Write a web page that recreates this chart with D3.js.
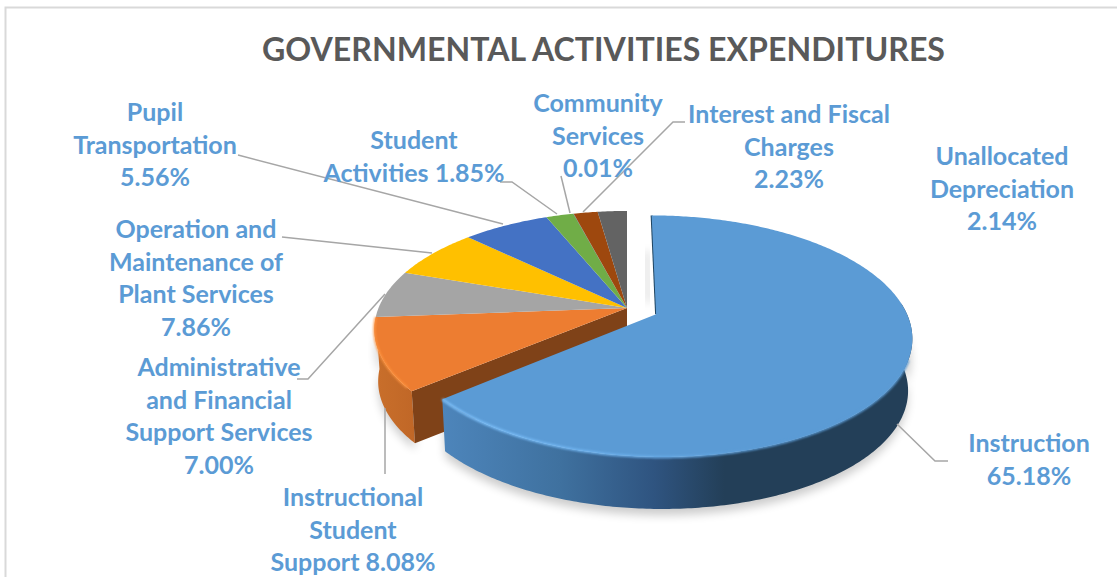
<!DOCTYPE html>
<html><head><meta charset="utf-8">
<script src="https://cdn.jsdelivr.net/npm/d3@7/dist/d3.min.js"></script>
<style>html,body{margin:0;padding:0;background:#fff}svg{display:block}</style>
</head><body><svg id="c" width="1117" height="577"></svg>
<script>
const categories=["Instruction","Instructional Student Support","Administrative and Financial Support Services","Operation and Maintenance of Plant Services","Pupil Transportation","Student Activities","Community Services","Interest and Fiscal Charges","Unallocated Depreciation"];
const values=[65.18,8.08,7.00,7.86,5.56,1.85,0.01,2.23,2.14];
const colors=["#5B9BD5","#ED7D31","#A5A5A5","#FFC000","#4472C4","#70AD47","#255E91","#9E480E","#636363"];
const titleText="GOVERNMENTAL ACTIVITIES EXPENDITURES";
const labelLines=[["Instruction","65.18%"],["Instructional","Student","Support 8.08%"],["Administrative","and Financial","Support Services","7.00%"],["Operation and","Maintenance of","Plant Services","7.86%"],["Pupil","Transportation","5.56%"],["Student","Activities 1.85%"],["Community","Services","0.01%"],["Interest and Fiscal","Charges","2.23%"],["Unallocated","Depreciation","2.14%"]];
// layout (label centre x, first-baseline y, leader polyline)
const labelX=[1029,353,219,196,155,414,598,789,1002];
const labelY=[452,506,376,238,121,149,112,123,165];
const leaders=[[[897,424],[935,461],[948,461]],[[385,408],[385,474]],[[385,294],[308,379],[297,379]],[[432,253],[282,237]],[[503,224],[238,155]],[[557,214],[512,182],[500,182]],[[570,213],[561,176]],[[583,212],[673,122],[685,122]],null];
// the reference's 3-D view shears slices slightly: slice boundary (deg) as seen on the disc
const viewAngles=[0,230,265.5,289,314,337.8,345.3,345.4,352,360];

const svg=d3.select("#c");
const defs=svg.append("defs");
defs.append("filter").attr("id","blur").attr("x","-20%").attr("y","-20%").attr("width","140%").attr("height","140%").append("feGaussianBlur").attr("stdDeviation",5);
defs.append("filter").attr("id","soft").append("feGaussianBlur").attr("stdDeviation",1.2);
const grad=(id,stops)=>{const g=defs.append("linearGradient").attr("id",id).attr("gradientUnits","userSpaceOnUse").attr("x1",stops.x1).attr("x2",stops.x2).attr("y1",0).attr("y2",0);
 stops.s.forEach(s=>g.append("stop").attr("offset",s[0]).attr("stop-color",s[1]));};
grad("sideBlue",{x1:443,x2:912,s:[[0,"#4D85BB"],[.25,"#3F719F"],[.45,"#2F5480"],[.6,"#233F58"],[1,"#233F58"]]});
grad("sideOrange",{x1:374,x2:425,s:[[0,"#C96F2B"],[1,"#BE6526"]]});
defs.append("linearGradient").attr("id","rimBlue").attr("gradientUnits","userSpaceOnUse").attr("x1",443).attr("x2",760).attr("y1",0).attr("y2",0)
 .call(g=>{g.append("stop").attr("offset",0).attr("stop-color","#7DC0FA");g.append("stop").attr("offset",.45).attr("stop-color","#70B4F0");g.append("stop").attr("offset",1).attr("stop-color","#5B9BD5");});

// projection of the pie disc, perspective tilt
const P={cx:627,cy:308,a:248.5,b:114.5,k:.18,depth:52};
const project=(u,v,z=0)=>{const w=1-P.k*v;return [P.cx+P.a*u/w*(1-.015*z),P.cy+P.b*v/w+P.depth*z];};
const rawArcs=d3.pie().sort(null).value(d=>d)(values);
const warp=d3.scaleLinear().domain([0,...rawArcs.map(d=>d.endAngle)]).range(viewAngles.map(d=>d*Math.PI/180));
const arcs=rawArcs.map(d=>({index:d.index,value:d.value,startAngle:warp(d.startAngle),endAngle:warp(d.endAngle)}));
const explode=.128;
const line=d3.line();
const offset=d=>{if(d.index!==0)return [0,0];const m=(d.startAngle+d.endAngle)/2;return [explode*Math.sin(m),-explode*Math.cos(m)];};
const pt=(d,ang,r,z)=>{const o=offset(d);return project(o[0]+r*Math.sin(ang),o[1]-r*Math.cos(ang),z);};
const rim=(d,a0,a1,z)=>{const n=Math.max(2,Math.ceil(Math.abs(a1-a0)*80));return d3.range(n+1).map(i=>pt(d,a0+(a1-a0)*i/n,1,z));};
const topFace=d=>line([pt(d,0,0,0),...rim(d,d.startAngle,d.endAngle,0)])+"Z";

// chart frame
svg.append("rect").attr("x",5.5).attr("y",7.5).attr("width",1130).attr("height",600).attr("fill","#fff").attr("stroke","#D9D9D9").attr("stroke-width",2);
const g=svg.append("g");

const orange=arcs[1], ins=arcs[0];
const sideFrom=ins.endAngle, sideTo=Math.PI*.47;

// soft ground shadows: crescents under the front rims, faint glow in the gap
[[ins,sideTo,sideFrom],[orange,orange.startAngle,orange.endAngle+.1]].forEach(([d,a,b])=>{
 g.append("path").attr("d",line([...rim(d,a,b,1.12),...rim(d,b,a,.4)])+"Z").attr("fill","#000").attr("opacity",.2).attr("filter","url(#blur)");
});
g.append("path").attr("d",line([pt(ins,0,.1,0),pt(ins,0,.6,0)])).attr("transform","translate(-7,0)").attr("stroke","#000").attr("stroke-width",12).attr("opacity",.08).attr("filter","url(#blur)");

// the pie's body: rest first, then exploded Instruction over it
g.append("path").attr("d",line([...rim(orange,orange.startAngle,orange.endAngle,0),...rim(orange,orange.endAngle,orange.startAngle,1)])+"Z").attr("fill","url(#sideOrange)");
g.append("path").attr("d",line([pt(orange,0,0,0),pt(orange,orange.startAngle,1,0),pt(orange,orange.startAngle,1,1),pt(orange,0,0,1)])+"Z").attr("fill","#7F4218");
arcs.slice(1).forEach(d=>g.append("path").attr("d",topFace(d)).attr("fill",colors[d.index]));
g.append("path").attr("d",line(rim(orange,orange.startAngle+.03,orange.endAngle,0))).attr("fill","none").attr("stroke","#FF9440").attr("stroke-width",2).attr("filter","url(#soft)");

// back cut edge of Instruction
g.append("path").attr("d",line([pt(ins,0,0,0),pt(ins,0,1,0)])).attr("stroke","#1F4460").attr("stroke-width",2).attr("fill","none");
g.append("path").attr("d",line([...rim(ins,sideTo,sideFrom,0),...rim(ins,sideFrom,sideTo,1)])+"Z").attr("fill","url(#sideBlue)");
g.append("path").attr("d",topFace(ins)).attr("fill",colors[0]);
g.append("path").attr("d",line(rim(ins,Math.PI*.62,ins.endAngle,0))).attr("fill","none").attr("stroke","url(#rimBlue)").attr("stroke-width",2.5).attr("filter","url(#soft)");

// leaders
leaders.forEach(l=>{if(l)svg.append("path").attr("d",line(l)).attr("fill","none").attr("stroke","#A6A6A6").attr("stroke-width",1.5);});

// title
svg.append("text").attr("x",603.5).attr("y",61).attr("text-anchor","middle").attr("font-family","Lato,sans-serif").attr("font-weight",700).attr("font-size",33).attr("fill","#595959").attr("textLength",683).attr("lengthAdjust","spacingAndGlyphs").text(titleText);

// labels
labelLines.forEach((lines,i)=>{
 const t=svg.append("text").attr("text-anchor","middle").attr("font-family","Lato,sans-serif").attr("font-weight",700).attr("font-size",25).attr("fill","#5B9BD5");
 lines.forEach((s,j)=>t.append("tspan").attr("x",labelX[i]).attr("y",labelY[i]+j*32.5).text(s));
});
</script></body></html>
